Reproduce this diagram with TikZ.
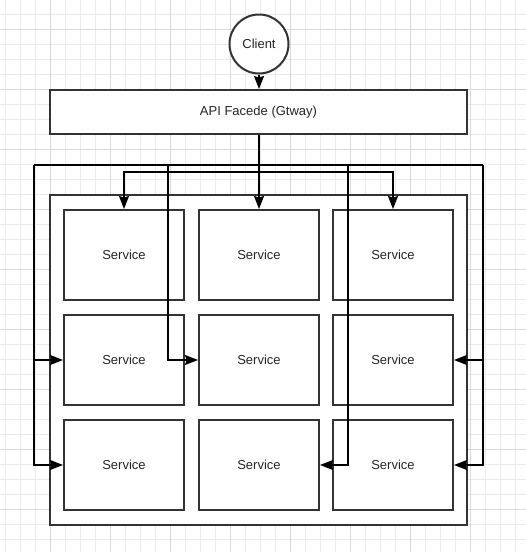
\documentclass[tikz,border=0pt]{standalone}
\usepackage{fontspec}
\setmainfont{Liberation Sans}
\usetikzlibrary{arrows.meta}
\begin{document}
\begin{tikzpicture}[x=1pt,y=-1pt,
  minorgrid/.style={draw=black!8,line width=1pt},
  majorgrid/.style={draw=black!15,line width=1pt},
  box/.style={draw=black!80,line width=2pt,fill=white,inner sep=0pt,
    font=\fontsize{13}{15}\selectfont,text=black!85},
  svc/.style={box,minimum width=120pt,minimum height=90pt},
  conn/.style={draw=black,line width=1.6pt},
  arr/.style={conn,-{Stealth[length=13pt,width=10pt,inset=1.5pt]}}]
\useasboundingbox (0,0) rectangle (526,552);
\fill[white] (0,0) rectangle (526,552);
% grid
\foreach \k in {0,...,34} {\draw[minorgrid] ({5.3+15*\k},0) -- ({5.3+15*\k},552);}
\foreach \k in {-1,...,36} {\draw[minorgrid] (0,{14.5+15*\k}) -- (526,{14.5+15*\k});}
\foreach \k in {0,...,7} {\draw[majorgrid] ({50.3+60*\k},0) -- ({50.3+60*\k},552);}
\foreach \k in {-1,...,9} {\draw[majorgrid] (0,{29.5+60*\k}) -- (526,{29.5+60*\k});}
% nodes
\node[box,circle,minimum size=59pt] (client) at (259,44) {Client};
\node[box,minimum width=417pt,minimum height=44pt] (gw) at (258.5,112) {API Facede (Gtway)};
\node[box,minimum width=417pt,minimum height=330pt] (cont) at (258.5,360) {};
\node[svc] (s11) at (124,255) {Service};
\node[svc] (s12) at (259,255) {Service};
\node[svc] (s13) at (393,255) {Service};
\node[svc] (s21) at (124,360) {Service};
\node[svc] (s22) at (259,360) {Service};
\node[svc] (s23) at (393,360) {Service};
\node[svc] (s31) at (124,465) {Service};
\node[svc] (s32) at (259,465) {Service};
\node[svc] (s33) at (393,465) {Service};
% junctions
\coordinate (jA) at (259,165);
\coordinate (jB) at (259,172);
\coordinate (cL) at (34,165);
\coordinate (cR) at (483,165);
\coordinate (cM1) at (168,165);
\coordinate (cM2) at (348,165);
% connectors
\draw[arr] (client.south) -- (client.south |- gw.north);
\draw[arr] (client.south |- gw.south) -- (s12.north);
\draw[arr] (jB) -| (s11.north);
\draw[arr] (jB) -| (s13.north);
\draw[conn] (cL) -- (cR);
\draw[arr] (cL) |- (s31.west);
\draw[arr] (cL |- s21.west) -- (s21.west);
\draw[arr] (cR) |- (s33.east);
\draw[arr] (cR |- s23.east) -- (s23.east);
\draw[arr] (cM1) |- (s22.west);
\draw[arr] (cM2) |- (s32.east);
\end{tikzpicture}
\end{document}
